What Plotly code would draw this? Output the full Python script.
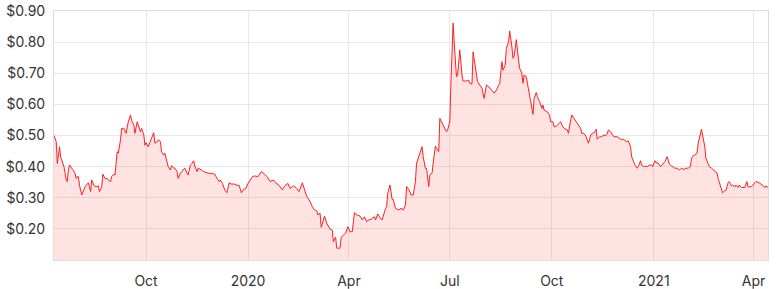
import pandas as pd
import plotly.graph_objects as go

start_date = "2019-07-10"
end_date = "2021-04-14"

# day offsets from start_date
days = [0, 2, 3, 5, 6, 8, 9, 11, 12, 13, 14, 17, 19, 20, 21, 22, 23, 25, 26, 28, 29, 31, 32, 33, 34, 36, 38, 40, 41, 43,
        44, 46, 48, 49, 51, 52, 54, 55, 56, 57, 58, 60, 61, 63, 65, 66, 67, 69, 70, 72, 73, 75, 76, 78, 79, 81, 82, 83, 85, 87,
        88, 90, 91, 93, 94, 96, 97, 99, 100, 102, 103, 105, 106, 108, 109, 111, 112, 114, 116, 118, 120, 121, 123, 124, 126, 127, 129, 130, 133, 135,
        138, 142, 145, 147, 149, 150, 152, 154, 156, 158, 160, 163, 165, 167, 169, 171, 173, 175, 177, 179, 181, 184, 187, 189, 192, 195, 198, 200, 203, 206,
        208, 211, 213, 216, 219, 221, 224, 226, 228, 231, 233, 235, 237, 238, 240, 241, 243, 244, 246, 247, 249, 251, 252, 254, 255, 258, 259, 261, 263, 265,
        267, 269, 271, 273, 276, 278, 280, 282, 284, 286, 289, 290, 292, 295, 296, 299, 300, 301, 303, 305, 306, 308, 311, 313, 315, 317, 318, 320, 322, 324,
        326, 327, 329, 330, 332, 333, 335, 336, 338, 339, 341, 342, 344, 346, 347, 348, 350, 352, 354, 355, 357, 358, 360, 361, 363, 364, 365, 366, 368, 369,
        372, 374, 375, 377, 378, 380, 382, 384, 386, 388, 390, 392, 395, 397, 399, 402, 404, 405, 407, 408, 410, 411, 413, 414, 415, 417, 419, 420, 422, 423,
        424, 426, 427, 429, 430, 432, 433, 435, 436, 438, 440, 441, 442, 445, 447, 448, 450, 451, 453, 455, 457, 459, 460, 463, 464, 466, 467, 469, 471, 473,
        475, 476, 478, 480, 482, 483, 484, 486, 488, 489, 490, 492, 494, 496, 497, 499, 500, 502, 503, 505, 508, 510, 512, 514, 516, 518, 520, 521, 523, 524,
        526, 527, 529, 530, 532, 533, 535, 537, 539, 540, 542, 543, 545, 547, 549, 551, 553, 555, 557, 560, 562, 564, 566, 568, 570, 572, 574, 575, 577, 578,
        580, 581, 584, 585, 587, 588, 590, 591, 593, 596, 598, 599, 601, 603, 605, 606, 608, 609, 611, 612, 614, 615, 617, 618, 620, 621, 623, 625, 626, 628,
        630, 632, 633, 636, 638, 640, 641, 642, 644]

prices = [0.500, 0.480, 0.410, 0.464, 0.430, 0.405, 0.400, 0.357, 0.352, 0.390, 0.405, 0.390, 0.379, 0.362, 0.368, 0.368, 0.340, 0.309, 0.319, 0.335, 0.340, 0.348, 0.335, 0.320, 0.357, 0.340, 0.335, 0.338, 0.320, 0.333,
          0.376, 0.362, 0.362, 0.357, 0.352, 0.368, 0.376, 0.373, 0.410, 0.448, 0.443, 0.486, 0.523, 0.523, 0.507, 0.528, 0.544, 0.566, 0.548, 0.534, 0.507, 0.544, 0.534, 0.512, 0.523, 0.502, 0.469, 0.477, 0.464, 0.480,
          0.491, 0.509, 0.475, 0.480, 0.486, 0.480, 0.448, 0.437, 0.443, 0.410, 0.400, 0.389, 0.403, 0.395, 0.395, 0.384, 0.362, 0.379, 0.387, 0.395, 0.379, 0.373, 0.405, 0.408, 0.419, 0.402, 0.384, 0.395, 0.389, 0.384,
          0.380, 0.379, 0.376, 0.362, 0.352, 0.357, 0.346, 0.325, 0.316, 0.348, 0.344, 0.344, 0.340, 0.340, 0.316, 0.327, 0.330, 0.346, 0.357, 0.368, 0.370, 0.368, 0.384, 0.379, 0.368, 0.352, 0.357, 0.348, 0.340, 0.325,
          0.338, 0.346, 0.330, 0.338, 0.330, 0.320, 0.348, 0.325, 0.304, 0.288, 0.271, 0.261, 0.258, 0.245, 0.250, 0.205, 0.229, 0.241, 0.218, 0.212, 0.199, 0.196, 0.159, 0.173, 0.138, 0.138, 0.173, 0.180, 0.186, 0.207,
          0.191, 0.191, 0.252, 0.245, 0.241, 0.229, 0.239, 0.223, 0.229, 0.231, 0.239, 0.229, 0.248, 0.231, 0.229, 0.266, 0.271, 0.314, 0.341, 0.295, 0.295, 0.266, 0.261, 0.266, 0.261, 0.277, 0.336, 0.327, 0.309, 0.309,
          0.352, 0.411, 0.432, 0.448, 0.464, 0.432, 0.394, 0.394, 0.336, 0.373, 0.379, 0.411, 0.466, 0.453, 0.448, 0.555, 0.539, 0.523, 0.512, 0.518, 0.544, 0.668, 0.861, 0.796, 0.689, 0.694, 0.743, 0.775, 0.694, 0.675,
          0.675, 0.678, 0.668, 0.665, 0.769, 0.716, 0.673, 0.662, 0.652, 0.619, 0.662, 0.657, 0.646, 0.636, 0.646, 0.668, 0.737, 0.710, 0.726, 0.780, 0.801, 0.836, 0.785, 0.748, 0.755, 0.808, 0.743, 0.716, 0.700, 0.668,
          0.694, 0.689, 0.668, 0.625, 0.598, 0.568, 0.619, 0.638, 0.625, 0.609, 0.587, 0.598, 0.582, 0.576, 0.566, 0.544, 0.544, 0.528, 0.530, 0.537, 0.544, 0.528, 0.523, 0.518, 0.507, 0.550, 0.566, 0.555, 0.544, 0.534,
          0.523, 0.507, 0.507, 0.496, 0.475, 0.486, 0.502, 0.507, 0.512, 0.520, 0.488, 0.496, 0.496, 0.502, 0.498, 0.505, 0.518, 0.512, 0.507, 0.496, 0.496, 0.491, 0.486, 0.488, 0.480, 0.483, 0.464, 0.432, 0.416, 0.405,
          0.395, 0.400, 0.419, 0.405, 0.400, 0.402, 0.400, 0.405, 0.405, 0.400, 0.419, 0.413, 0.411, 0.400, 0.408, 0.416, 0.432, 0.408, 0.402, 0.395, 0.395, 0.389, 0.395, 0.391, 0.395, 0.395, 0.400, 0.427, 0.437, 0.437,
          0.443, 0.475, 0.520, 0.502, 0.464, 0.427, 0.411, 0.400, 0.395, 0.387, 0.379, 0.362, 0.340, 0.316, 0.323, 0.323, 0.348, 0.352, 0.338, 0.341, 0.335, 0.341, 0.333, 0.341, 0.333, 0.333, 0.333, 0.352, 0.335, 0.335,
          0.338, 0.348, 0.352, 0.348, 0.344, 0.338, 0.333, 0.338, 0.333]

tick_dates = ["2019-10-01", "2020-01-01", "2020-04-01", "2020-07-01", "2020-10-01", "2021-01-01", "2021-04-01"]
tick_labels = ["Oct", "2020", "Apr", "Jul", "Oct", "2021", "Apr"]
y_ticks = [0.2, 0.3, 0.4, 0.5, 0.6, 0.7, 0.8, 0.9]
y_labels = [f"${v:.2f}" for v in y_ticks]

dates = pd.Timestamp(start_date) + pd.to_timedelta(days, unit="D")

fig = go.Figure()
fig.add_trace(go.Scatter(
    x=dates, y=prices, mode="lines",
    line=dict(color="#ff1f1f", width=1),
    fill="tozeroy", fillcolor="rgba(246,60,50,0.14)",
    hoverinfo="skip",
))

grid = "#e8e8e8"
fig.update_layout(
    width=776, height=289,
    margin=dict(l=54, r=8, t=11, b=29),
    paper_bgcolor="white", plot_bgcolor="white",
    showlegend=False,
    font=dict(family="Inter, Lato, sans-serif", size=14, color="#333333"),
    xaxis=dict(
        range=[start_date, end_date],
        tickmode="array", tickvals=tick_dates, ticktext=tick_labels,
        showgrid=True, gridcolor=grid, gridwidth=1,
        showline=True, linecolor="#dddddd", linewidth=1, mirror=True,
        ticks="", ticklabelstandoff=8,
        zeroline=False, automargin=False,
    ),
    yaxis=dict(
        range=[0.1, 0.9],
        tickmode="array", tickvals=y_ticks, ticktext=y_labels,
        showgrid=True, gridcolor=grid, gridwidth=1,
        showline=True, linecolor="#dddddd", linewidth=1, mirror=True,
        ticks="", ticklabelstandoff=5,
        zeroline=False, automargin=False,
    ),
)

fig.write_html("out.html")
